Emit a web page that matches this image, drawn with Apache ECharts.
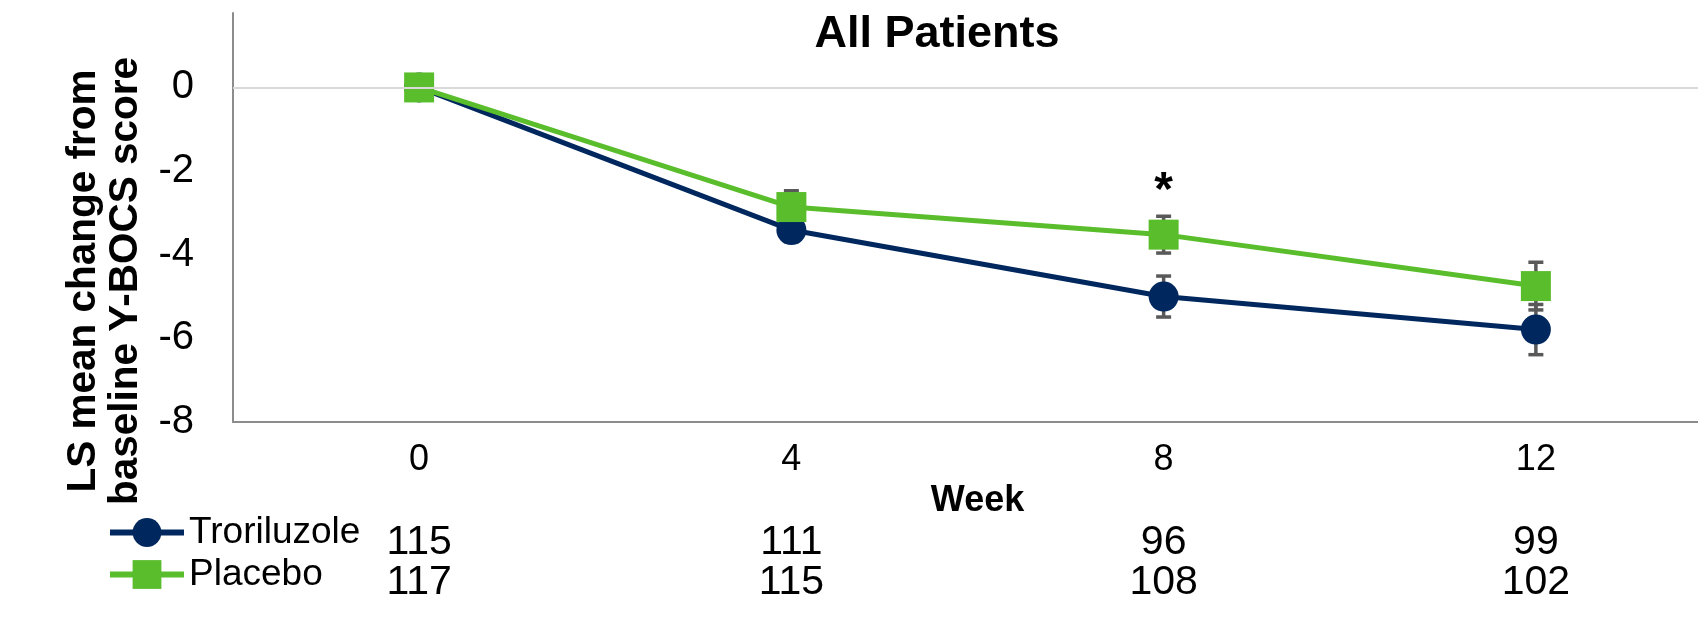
<!DOCTYPE html>
<html>
<head>
<meta charset="utf-8">
<script src="https://cdn.jsdelivr.net/npm/echarts@6/dist/echarts.min.js"></script>
<style>
  html, body { margin: 0; padding: 0; background: #fff; }
  #chart { width: 1698px; height: 617px; }
</style>
</head>
<body>
<div id="chart"></div>
<script>
// Visit weeks and LS mean change from baseline (± SE) per arm
const weeks = ['0', '4', '8', '12'];
const troriluzoleMean = [0, -3.41, -5.0, -5.79];
const troriluzoleSE = [0, 0.28, 0.49, 0.6];
const placeboMean = [0, -2.86, -3.52, -4.75];
const placeboSE = [0, 0.39, 0.44, 0.57];
// Patients contributing at each visit
const troriluzoleN = ['115', '111', '96', '99'];
const placeboN = ['117', '115', '108', '102'];
// Visits with a significant between-arm difference
const significant = [false, false, true, false];

const NAVY = '#00285e';
const GREEN = '#5abd2c';
const BAR = '#595959';
const FONT = '"Liberation Sans", Arial, sans-serif';

const chart = echarts.init(document.getElementById('chart'), null, { renderer: 'canvas' });

// Error bars (with caps) drawn through the axes; optional significance star above
function errorBarSeries(name, means, ses, withStar, z) {
  return {
    name: name + ' SE',
    type: 'custom',
    z: z,
    silent: true,
    encode: { x: 0, y: 1 },
    data: weeks.map((w, i) => [i, means[i], ses[i]]),
    renderItem: function (params, api) {
      const i = api.value(0);
      const m = api.value(1);
      const se = api.value(2);
      const children = [];
      const top = api.coord([i, m + se]);
      const bot = api.coord([i, m - se]);
      const x = top[0];
      const hw = 7.5;
      if (se > 0) {
        children.push({ type: 'line', shape: { x1: x, y1: top[1], x2: x, y2: bot[1] }, style: { stroke: BAR, lineWidth: 3.5 } });
        children.push({ type: 'line', shape: { x1: x - hw, y1: top[1], x2: x + hw, y2: top[1] }, style: { stroke: BAR, lineWidth: 3.5 } });
        children.push({ type: 'line', shape: { x1: x - hw, y1: bot[1], x2: x + hw, y2: bot[1] }, style: { stroke: BAR, lineWidth: 3.5 } });
      }
      if (withStar && significant[i]) {
        children.push({
          type: 'text', x: x, y: top[1] - 24,
          style: { text: '*', fontSize: 48, fontWeight: 'bold', fontFamily: FONT, fill: '#000', align: 'center', verticalAlign: 'middle' }
        });
      }
      return { type: 'group', children: children };
    }
  };
}

const countAxis = (labels, margin) => ({
  type: 'category',
  data: labels,
  position: 'bottom',
  gridIndex: 0,
  axisLine: { show: false },
  axisTick: { show: false },
  splitLine: { show: false },
  axisLabel: { fontSize: 41, color: '#000', fontFamily: FONT, margin: margin, verticalAlign: 'middle' }
});

chart.setOption({
  animation: false,
  grid: { left: 233, right: -24, top: 13, bottom: 195, containLabel: false, outerBoundsMode: 'none' },
  legend: {
    orient: 'vertical',
    left: 107,
    top: 514,
    padding: 0,
    itemWidth: 74,
    itemHeight: 36,
    itemGap: 5,
    selectedMode: false,
    data: [
      { name: 'Troriluzole', lineStyle: { width: 6 } },
      { name: 'Placebo', lineStyle: { width: 6 } }
    ],
    lineStyle: { width: 6 },
    textStyle: { fontSize: 37, color: '#000', fontFamily: FONT, lineHeight: 36 }
  },
  xAxis: [
    {
      type: 'category',
      data: weeks,
      boundaryGap: true,
      axisLine: { onZero: false, lineStyle: { color: '#8c8c8c', width: 2 } },
      axisTick: { show: false },
      splitLine: { show: false },
      axisLabel: { fontSize: 36, color: '#000', fontFamily: FONT, margin: 38, verticalAlign: 'middle' },
      name: 'Week',
      nameLocation: 'middle',
      nameGap: 75,
      nameTextStyle: { fontSize: 36, fontWeight: 'bold', color: '#000', fontFamily: FONT, verticalAlign: 'middle' }
    },
    countAxis(troriluzoleN, 121),
    countAxis(placeboN, 161)
  ],
  yAxis: {
    type: 'value',
    min: -8,
    max: 1.78,
    interval: 2,
    axisLine: { show: true, lineStyle: { color: '#8c8c8c', width: 2 } },
    axisTick: { show: false },
    splitLine: { show: false },
    axisLabel: {
      fontSize: 40, color: '#000', fontFamily: FONT, margin: 39,
      formatter: v => (v > 0.001 ? '' : String(v))
    }
  },
  graphic: [
    {
      type: 'text', x: 937, y: 35,
      style: { text: 'All Patients', fontSize: 45, fontWeight: 'bold', fontFamily: FONT, fill: '#000', align: 'center', verticalAlign: 'middle' }
    },
    {
      type: 'text', x: 105, y: 281, rotation: Math.PI / 2,
      style: { text: 'LS mean change from\nbaseline Y-BOCS score', fontSize: 40.5, lineHeight: 42, fontWeight: 'bold', fontFamily: FONT, fill: '#000', align: 'center', verticalAlign: 'middle' }
    }
  ],
  series: [
    errorBarSeries('Troriluzole', troriluzoleMean, troriluzoleSE, false, 1),
    errorBarSeries('Placebo', placeboMean, placeboSE, true, 1),
    {
      name: 'Troriluzole',
      type: 'line',
      z: 3,
      data: troriluzoleMean,
      symbol: 'circle',
      symbolSize: 30,
      lineStyle: { color: NAVY, width: 5 },
      itemStyle: { color: NAVY },
      emphasis: { disabled: true },
      markLine: {
        silent: true,
        symbol: 'none',
        label: { show: false },
        lineStyle: { color: '#d9d9d9', width: 2, type: 'solid' },
        data: [{ yAxis: 0 }]
      }
    },
    {
      name: 'Placebo',
      type: 'line',
      z: 4,
      data: placeboMean,
      symbol: 'rect',
      symbolSize: 30,
      lineStyle: { color: GREEN, width: 5 },
      itemStyle: { color: GREEN },
      emphasis: { disabled: true }
    }
  ]
});
</script>
</body>
</html>
